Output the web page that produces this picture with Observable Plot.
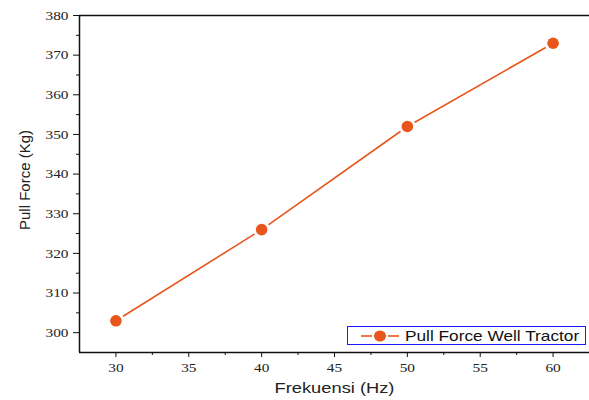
<!DOCTYPE html>
<html>
<head>
<meta charset="utf-8">
<script src="https://cdn.jsdelivr.net/npm/d3@7"></script>
<script src="https://cdn.jsdelivr.net/npm/@observablehq/plot@0.6"></script>
<style>
  html, body { margin: 0; padding: 0; background: #fff; }
  #wrap { position: relative; width: 589px; height: 400px; }
  #wrap svg g[aria-label$="tick label"] text,
  #wrap svg g[aria-label$="tick label"] {
    font-family: "Liberation Serif", "Times New Roman", serif !important;
    font-size: 13px !important;
  }
  #legend {
    position: absolute; left: 347px; top: 326px; width: 237px; height: 17px;
    border: 1px solid #1a1aff; background: #fff;
    font-family: "Liberation Sans", Arial, sans-serif; font-size: 15px; color: #111;
    display: flex; align-items: center; overflow: hidden;
  }
  #legend svg { margin-left: 13px; margin-right: 6px; flex: none; }
  #legend span { display: inline-block; transform: scaleX(1.15); transform-origin: left center; white-space: nowrap; }
</style>
</head>
<body>
<div id="wrap"></div>
<script>
// Data
const frequency = [30, 40, 50, 60];           // Hz
const pullForce = [303, 326, 352, 373];       // Kg
const seriesName = "Pull Force Well Tractor";

// Axes
const xDomain = [27.5, 62.5];
const yDomain = [295, 380];
const xTicks = [30, 35, 40, 45, 50, 55, 60];
const xMinor = [32.5, 37.5, 42.5, 47.5, 52.5, 57.5];
const yTicks = [300, 310, 320, 330, 340, 350, 360, 370, 380];
const yMinor = [305, 315, 325, 335, 345, 355, 365, 375];
const xTitle = "Frekuensi (Hz)";
const yTitle = "Pull Force (Kg)";

const color = "#e8561c";
const data = frequency.map((f, i) => ({f, v: pullForce[i]}));
const sans = "Liberation Sans";
const serif = "Liberation Serif";

const chart = Plot.plot({
  width: 589,
  height: 400,
  marginLeft: 79,
  marginTop: 15,
  marginRight: 0,
  marginBottom: 48,
  x: {domain: xDomain},
  y: {domain: yDomain},
  style: {fontFamily: serif, fontSize: "13px", color: "#222", background: "#fff"},
  marks: [
    Plot.axisY(yTicks, {tickSize: 6, tickPadding: 5, label: null, stroke: "#111", fill: "#222", fontFamily: serif, fontSize: 13}),
    Plot.axisY(yMinor, {tickSize: 3, tickFormat: () => "", label: null, stroke: "#111"}),
    Plot.axisX(xTicks, {tickSize: 5, tickPadding: 5, label: null, stroke: "#111", fill: "#222", fontFamily: serif, fontSize: 13}),
    Plot.axisX(xMinor, {tickSize: 3, tickFormat: () => "", label: null, stroke: "#111"}),
    Plot.ruleX([xDomain[0]], {stroke: "#111", strokeWidth: 1.5}),
    Plot.ruleY(yDomain, {stroke: "#111", strokeWidth: 1.5}),
    Plot.line(data, {x: "f", y: "v", stroke: color, strokeWidth: 1.6}),
    Plot.dot(data, {x: "f", y: "v", r: 8.5, fill: "white"}),
    Plot.dot(data, {x: "f", y: "v", r: 5.8, fill: color}),
    Plot.text([yTitle], {frameAnchor: "left", textAnchor: "middle", rotate: -90, dx: -54, dy: -4, fontFamily: sans, fontSize: 15, fill: "#222"}),
    Plot.text([xTitle], {frameAnchor: "bottom", textAnchor: "middle", dy: 40, fontFamily: sans, fontSize: 15.5, fill: "#222", className: "xtitle"})
  ]
});

const wrap = document.getElementById("wrap");
wrap.appendChild(chart);

// horizontal stretch like the original image (via textLength)
const sx = 1.18;
const stretch = (el) => {
  const L = el.getComputedTextLength();
  if (L > 0) {
    el.setAttribute("textLength", (L * sx).toFixed(2));
    el.setAttribute("lengthAdjust", "spacingAndGlyphs");
  }
};
chart.querySelectorAll('g[aria-label$="tick label"] text').forEach(stretch);
chart.querySelectorAll('text').forEach(el => {
  if (el.textContent === xTitle) stretch(el);
});

const legend = document.createElement("div");
legend.id = "legend";
legend.innerHTML = `<svg width="38" height="14"><line x1="0" y1="7" x2="11" y2="7" stroke="${color}" stroke-width="1.6"/><line x1="27" y1="7" x2="38" y2="7" stroke="${color}" stroke-width="1.6"/><ellipse cx="19" cy="7" rx="6" ry="5.5" fill="${color}"/></svg><span>${seriesName}</span>`;
wrap.appendChild(legend);
</script>
</body>
</html>
